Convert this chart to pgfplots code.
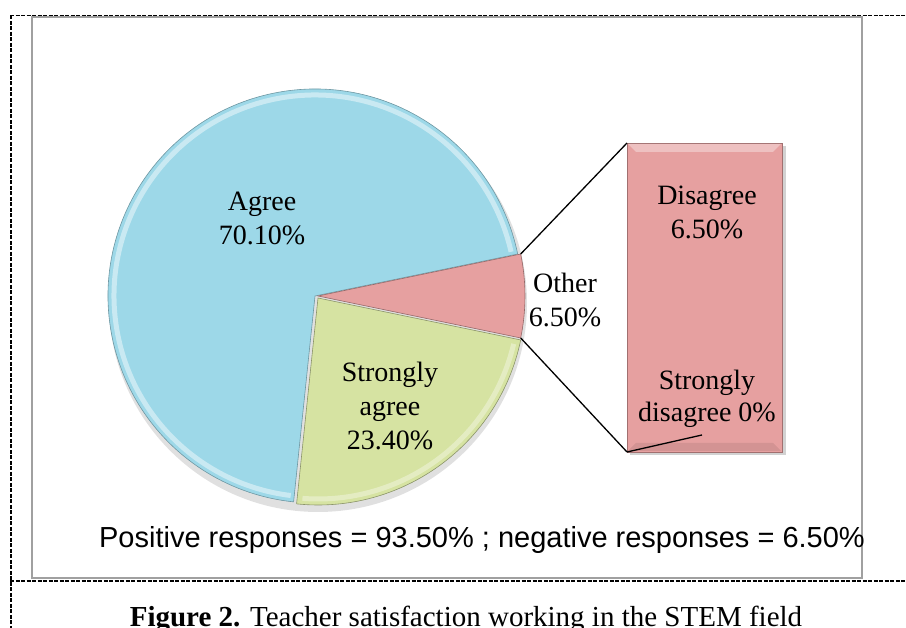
\documentclass[border=0pt]{standalone}
\usepackage{fontspec}
\setmainfont{Liberation Serif}
\newfontfamily\arial{Liberation Sans}
\usepackage{pgfplots}
\pgfplotsset{compat=1.18}
\definecolor{cAgree}{RGB}{157,216,232}
\definecolor{cSA}{RGB}{214,227,162}
\definecolor{cOther}{RGB}{230,160,160}
\definecolor{cBorder}{RGB}{160,160,160}
% data (percent)
\def\vAgree{70.1}
\def\vSAgree{23.4}
\def\vOther{6.5}
\def\vDisagree{6.5}
\def\vSDisagree{0}
\begin{document}
\begin{tikzpicture}
\begin{axis}[
  width=906pt, height=628pt, scale only axis,
  xmin=0, xmax=906, ymin=0, ymax=628,
  hide axis, clip=false,
]
% frame
\draw[cBorder, line width=2pt] (axis cs:32,50) rectangle (axis cs:862,611);
\draw[black, line width=1.8pt, dash pattern=on 4pt off 1.5pt] (axis cs:10,612.5) -- (axis cs:906,612.5);
\draw[black, line width=1.8pt, dash pattern=on 4pt off 1.5pt] (axis cs:11,612.5) -- (axis cs:11,0);
\draw[black, line width=1.8pt, dash pattern=on 4pt off 1.5pt] (axis cs:10,47) -- (axis cs:906,47);
% pie geometry from data
\pgfmathsetmacro{\aOs}{-\vOther*3.6/2}
\pgfmathsetmacro{\aOe}{\vOther*3.6/2}
\pgfmathsetmacro{\aAe}{\aOe+\vAgree*3.6}
\pgfmathsetmacro{\aSe}{\aAe+\vSAgree*3.6}
\def\R{207pt}
\def\Ri{201pt}
% shadow
\fill[black!20, opacity=0.6] (axis cs:318,325) circle[radius=209pt];
% sectors
\fill[cAgree, draw=cAgree!70!black, line width=0.6pt] (axis cs:315,332) -- ++(\aOe:\R) arc[start angle=\aOe, end angle=\aAe, radius=\R] -- cycle;
\draw[white, opacity=0.45, line width=5pt] (axis cs:315,332) ++(\aOe+1:\Ri) arc[start angle=\aOe+1, end angle=\aAe-1, radius=\Ri];
\fill[cSA, draw=cSA!65!black, line width=0.6pt] (axis cs:318,330) -- ++(\aAe:\R) arc[start angle=\aAe, end angle=\aSe, radius=\R] -- cycle;
\draw[white, opacity=0.35, line width=5pt] (axis cs:318,330) ++(\aAe+1.5:\Ri) arc[start angle=\aAe+1.5, end angle=\aSe-1.5, radius=\Ri];
\fill[cOther, draw=cOther!65!black, line width=0.6pt] (axis cs:318,332) -- ++(\aOs:\R) arc[start angle=\aOs, end angle=\aOe, radius=\R] -- cycle;
% bar of pie
\pgfmathsetmacro{\barTop}{176+309*(\vDisagree+\vSDisagree)/\vOther}
\pgfmathsetmacro{\barDiv}{176+309*\vSDisagree/\vOther}
\fill[black!25, opacity=0.7] (axis cs:630,173) rectangle (axis cs:786,\barTop-3);
\fill[cOther, draw=cOther!70!black, line width=0.6pt] (axis cs:627,\barDiv) rectangle (axis cs:782,\barTop);
\fill[white, opacity=0.35] (axis cs:628,\barTop-1) -- (axis cs:781,\barTop-1) -- (axis cs:773,\barTop-9) -- (axis cs:636,\barTop-9) -- cycle;
\fill[black, opacity=0.08] (axis cs:628,\barDiv+1) -- (axis cs:781,\barDiv+1) -- (axis cs:773,\barDiv+9) -- (axis cs:636,\barDiv+9) -- cycle;
% connector lines
\draw[black, line width=1.3pt] (axis cs:318,332) ++(\aOe:\R) -- (axis cs:627,\barTop);
\draw[black, line width=1.3pt] (axis cs:318,332) ++(\aOs:\R) -- (axis cs:627,\barDiv);
\draw[black, line width=1.3pt] (axis cs:627,\barDiv) -- (axis cs:702,\barDiv+17);
% labels
\node[align=center, font=\fontsize{28}{34}\selectfont] at (axis cs:262,410) {Agree\\70.10\%};
\node[align=center, font=\fontsize{28}{34}\selectfont] at (axis cs:390,222) {Strongly\\agree\\23.40\%};
\node[align=center, font=\fontsize{28}{34}\selectfont] at (axis cs:565,328) {Other\\6.50\%};
\node[align=center, font=\fontsize{28}{34}\selectfont] at (axis cs:707,416) {Disagree\\6.50\%};
\node[align=center, font=\fontsize{28}{32}\selectfont] at (axis cs:707,229) {Strongly\\disagree 0\%};
\node[font=\arial\fontsize{29}{33}\selectfont] at (axis cs:482,88) {Positive responses = 93.50\% ; negative responses = 6.50\%};
\node[anchor=base, font=\fontsize{29}{32}\selectfont] at (axis cs:466,1) {\textbf{Figure 2.} Teacher satisfaction working in the STEM field};
\end{axis}
\pgfresetboundingbox
\path[use as bounding box] (0,0) rectangle (906pt,628pt);
\end{tikzpicture}
\end{document}
